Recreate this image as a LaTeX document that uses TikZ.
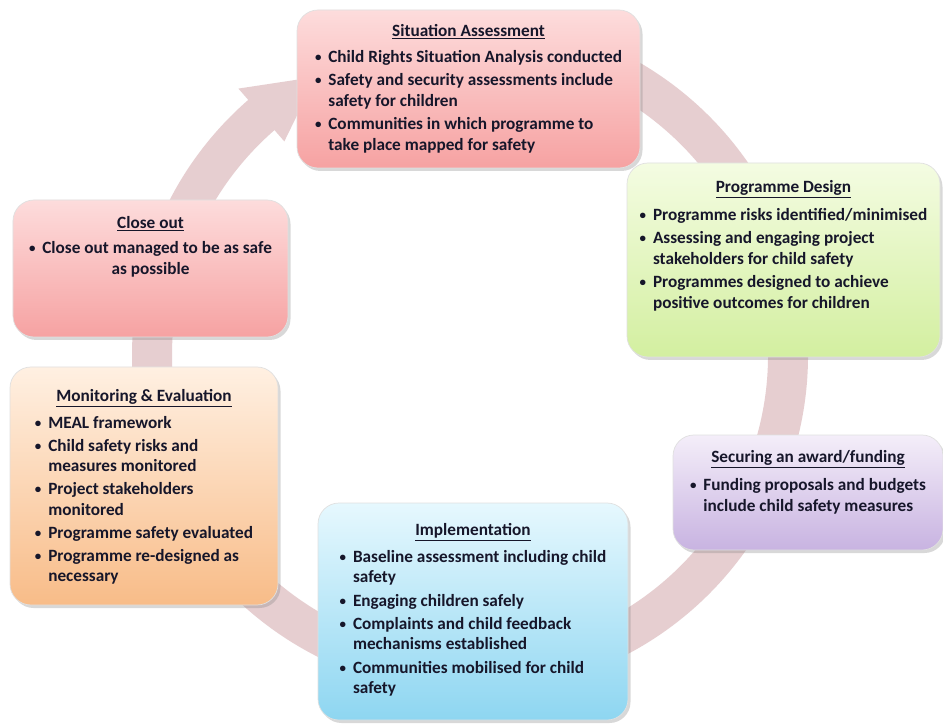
\documentclass[tikz,border=0pt]{standalone}
\usepackage{fontspec}
\setmainfont{Carlito}
\usepackage{xcolor}
\usetikzlibrary{shadows,positioning,calc}

\definecolor{ringc}{HTML}{E6CED0}
\definecolor{txt}{HTML}{16162A}
\definecolor{sitTop}{HTML}{FDDCDC}
\definecolor{sitBot}{HTML}{F6A2A2}
\definecolor{desTop}{HTML}{F4FCE2}
\definecolor{desBot}{HTML}{D3EFA0}
\definecolor{secTop}{HTML}{F4EEF9}
\definecolor{secBot}{HTML}{C8B3E1}
\definecolor{impTop}{HTML}{E6F8FE}
\definecolor{impBot}{HTML}{8ED6F1}
\definecolor{monTop}{HTML}{FFF0E2}
\definecolor{monBot}{HTML}{F8BC88}

\newcommand{\bl}{\raisebox{0.12ex}{\scalebox{0.75}{\textbullet}}\hspace{0.4em}}
\newcommand{\ind}{\phantom{\bl}}

\begin{document}
\begin{tikzpicture}[
    box/.style={rounded corners=0.42cm, draw=black!12, line width=0.4pt, inner sep=0pt,
        drop shadow={opacity=0.3, shadow xshift=0.05cm, shadow yshift=-0.06cm}},
    title/.style={font=\bfseries\fontsize{9.8}{11.8}\selectfont, text=txt, inner sep=0pt},
    body/.style={font=\bfseries\fontsize{9.8}{11.8}\selectfont, text=txt, align=left, inner sep=0pt}
]
    \useasboundingbox (0,0) rectangle (18.86,14.46);
    \fill[white] (0,0) rectangle (18.86,14.46);

    % Cycle ring
    \coordinate (ctr) at (9.4,7.36);
    \draw[ringc, line width=0.8cm] ($(ctr)+(95:6.36)$) arc[start angle=95, end angle=-230, radius=6.36];
    \fill[ringc] ($(ctr)+(131:5.66)$) -- ($(ctr)+(131:7.06)$) -- ($(ctr)+(119:6.36)$) -- cycle;

    % Situation Assessment
    \node[box, top color=sitTop, bottom color=sitBot, minimum width=6.86cm, minimum height=3.16cm] (sit) at (9.37,12.68) {};
    \node[title, below=0.28cm of sit.north] (sit-t) {\underline{Situation Assessment}};
    \node[body, below=0.2cm of sit-t] (sit-b) {%
        \bl Child Rights Situation Analysis conducted\\[1.4pt]
        \bl Safety and security assessments include\\
        \ind safety for children\\[1.4pt]
        \bl Communities in which programme to\\
        \ind take place mapped for safety};

    % Programme Design
    \node[box, top color=desTop, bottom color=desBot, minimum width=6.26cm, minimum height=3.88cm] (des) at (15.67,9.26) {};
    \node[title, below=0.34cm of des.north] (des-t) {\underline{Programme Design}};
    \node[body, below=0.18cm of des-t] (des-b) {%
        \bl Programme risks identified/minimised\\[1.4pt]
        \bl Assessing and engaging project\\
        \ind stakeholders for child safety\\[1.4pt]
        \bl Programmes designed to achieve\\
        \ind positive outcomes for children};

    % Securing an award/funding
    \node[box, top color=secTop, bottom color=secBot, minimum width=5.4cm, minimum height=2.3cm] (sec) at (16.16,4.61) {};
    \node[title, below=0.3cm of sec.north] (sec-t) {\underline{Securing an award/funding}};
    \node[body, below=0.18cm of sec-t] (sec-b) {%
        \bl Funding proposals and budgets\\
        \ind include child safety measures};

    % Implementation
    \node[box, top color=impTop, bottom color=impBot, minimum width=6.2cm, minimum height=4.34cm] (imp) at (9.46,2.23) {};
    \node[title, below=0.4cm of imp.north] (imp-t) {\underline{Implementation}};
    \node[body, below=0.16cm of imp-t] (imp-b) {%
        \bl Baseline assessment including child\\
        \ind safety\\[1.4pt]
        \bl Engaging children safely\\[1.4pt]
        \bl Complaints and child feedback\\
        \ind mechanisms established\\[1.4pt]
        \bl Communities mobilised for child\\
        \ind safety};

    % Monitoring & Evaluation
    \node[box, top color=monTop, bottom color=monBot, minimum width=5.36cm, minimum height=4.76cm] (mon) at (2.88,4.74) {};
    \node[title, below=0.44cm of mon.north] (mon-t) {\underline{Monitoring \& Evaluation}};
    \node[body, below=0.16cm of mon-t] (mon-b) {%
        \bl MEAL framework\\[1.2pt]
        \bl Child safety risks and\\
        \ind measures monitored\\[1.2pt]
        \bl Project stakeholders\\
        \ind monitored\\[1.2pt]
        \bl Programme safety evaluated\\[1.2pt]
        \bl Programme re-designed as\\
        \ind necessary};

    % Close out
    \node[box, top color=sitTop, bottom color=sitBot, minimum width=5.5cm, minimum height=2.74cm] (clo) at (3.01,9.09) {};
    \node[title, below=0.32cm of clo.north] (clo-t) {\underline{Close out}};
    \node[body, align=center, below=0.18cm of clo-t] (clo-b) {%
        \bl Close out managed to be as safe\\
        as possible};
\end{tikzpicture}
\end{document}
